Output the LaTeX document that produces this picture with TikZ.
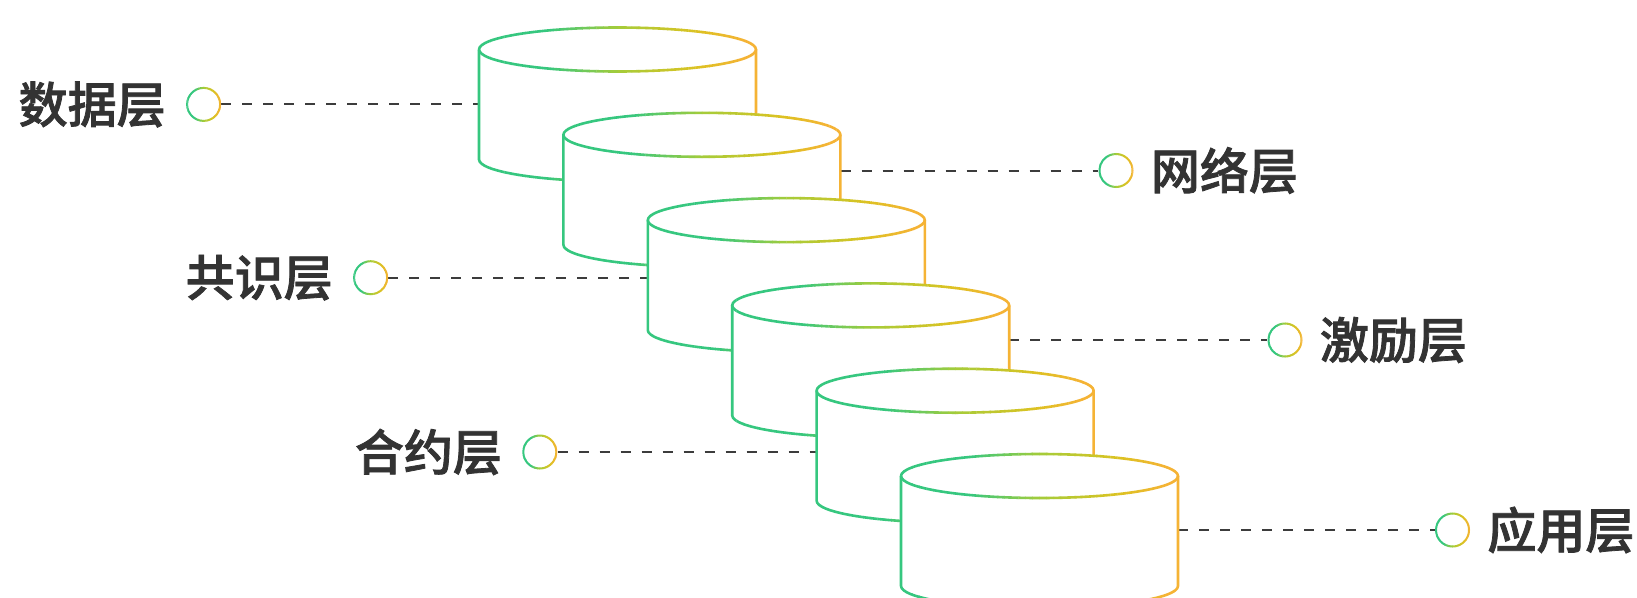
\documentclass[tikz,border=0pt]{standalone}
\usepackage{fontspec}
\newfontfamily\cjk{Noto Sans CJK SC Medium}[FakeBold=1.6]
\definecolor{cA}{RGB}{54,199,127}
\definecolor{cB}{RGB}{165,204,58}
\definecolor{cC}{RGB}{220,194,34}
\definecolor{cD}{RGB}{245,179,53}
\definecolor{txt}{RGB}{51,51,51}
\definecolor{dashc}{RGB}{60,60,60}
\newcommand\setgc[1]{%
  \pgfmathsetmacro\gT{#1}%
  \ifdim\gT pt<0.25pt \colorlet{gc}{cA}%
  \else\ifdim\gT pt<0.5pt \pgfmathtruncatemacro\gP{(\gT-0.25)/0.25*100}\colorlet{gc}{cB!\gP!cA}%
  \else\ifdim\gT pt<0.78pt \pgfmathtruncatemacro\gP{(\gT-0.5)/0.28*100}\colorlet{gc}{cC!\gP!cB}%
  \else\ifdim\gT pt<0.95pt \pgfmathtruncatemacro\gP{(\gT-0.78)/0.17*100}\colorlet{gc}{cD!\gP!cC}%
  \else \colorlet{gc}{cD}\fi\fi\fi\fi}
\def\cRx{138.5}
\def\cRy{22}
\def\cHt{110}
% gradient-stroked cylinder: #1 left x, #2 top-centre y (downwards positive)
\newcommand\gradcyl[2]{%
  \fill[white] (#1,-#2) arc[start angle=180,end angle=0,x radius=\cRx,y radius=\cRy]
     -- ++(0,-\cHt) arc[start angle=0,end angle=-180,x radius=\cRx,y radius=\cRy] -- cycle;
  \foreach \k in {0,...,39}{%
    \pgfmathsetmacro\xa{#1-3+\k*(2*\cRx+6)/40}%
    \pgfmathsetmacro\xb{\xa+(2*\cRx+6)/40+0.4}%
    \setgc{(\k+0.5)/40}%
    \begin{scope}
      \clip (\xa,-#2+30) rectangle (\xb,-#2-\cHt-30);
      \draw[gc,cylline] (#1+\cRx,-#2) ellipse[x radius=\cRx,y radius=\cRy];
      \draw[gc,cylline] (#1,-#2) -- ++(0,-\cHt)
         arc[start angle=180,end angle=360,x radius=\cRx,y radius=\cRy] -- ++(0,\cHt);
    \end{scope}
  }%
}
% gradient-stroked ring around a named node
\newcommand\gradring[1]{%
  \foreach \k in {0,...,13}{%
    \setgc{(\k+0.5)/14}%
    \begin{scope}
      \path (#1.center) ++(-19+\k*38/14,-25) coordinate (qa);
      \path (#1.center) ++(-19+\k*38/14+38/14+0.4,25) coordinate (qb);
      \clip (qa) rectangle (qb);
      \draw[gc,line width=2pt] (#1.center) circle[radius=16.5];
    \end{scope}
  }%
}
\tikzset{
  cylline/.style={line width=2.6pt,line join=round},
  dashline/.style={dashc,line width=2pt,dash pattern=on 10pt off 11pt},
  ring/.style={circle,minimum size=35pt,inner sep=0pt,draw=none},
  lbl/.style={font=\cjk\fontsize{49}{49}\selectfont,text=txt,inner sep=0pt},
}
\begin{document}
\begin{tikzpicture}[x=1pt,y=1pt]
\useasboundingbox (0,0) rectangle (1637,-597);
\clip (0,0) rectangle (1637,-597);
% rings
\node[ring] (r1) at (203.6,-104.4) {};
\node[ring] (r2) at (1116,-170.5) {};
\node[ring] (r3) at (370.6,-277.7) {};
\node[ring] (r4) at (1285,-340) {};
\node[ring] (r5) at (539.8,-452) {};
\node[ring] (r6) at (1452.5,-530) {};
% attachment points on cylinders
\coordinate (k1) at (479,-104.4);
\coordinate (k2) at (840.6,-170.5);
\coordinate (k3) at (647.8,-277.7);
\coordinate (k4) at (1009.2,-340);
\coordinate (k5) at (816.6,-452);
\coordinate (k6) at (1178,-530);
% labels
\node[lbl,anchor=east] (t1) at ([xshift=-20pt]r1.west) {数据层};
\node[lbl,anchor=west] (t2) at ([xshift=17pt]r2.east) {网络层};
\node[lbl,anchor=east] (t3) at ([xshift=-20pt]r3.west) {共识层};
\node[lbl,anchor=west] (t4) at ([xshift=17pt]r4.east) {激励层};
\node[lbl,anchor=east] (t5) at ([xshift=-20pt]r5.west) {合约层};
\node[lbl,anchor=west] (t6) at ([xshift=17pt]r6.east) {应用层};
% connectors
\draw[dashline] (r1.east) -- (k1);
\draw[dashline] (k2) -- (r2.west);
\draw[dashline] (r3.east) -- (k3);
\draw[dashline] (k4) -- (r4.west);
\draw[dashline] (r5.east) -- (k5);
\draw[dashline] (k6) -- (r6.west);
% cylinders
\gradcyl{479}{49.5}
\gradcyl{563.4}{134.8}
\gradcyl{647.8}{220.1}
\gradcyl{732.2}{305.4}
\gradcyl{816.6}{390.7}
\gradcyl{901}{476}
% rings
\gradring{r1}
\gradring{r2}
\gradring{r3}
\gradring{r4}
\gradring{r5}
\gradring{r6}
\end{tikzpicture}
\end{document}
